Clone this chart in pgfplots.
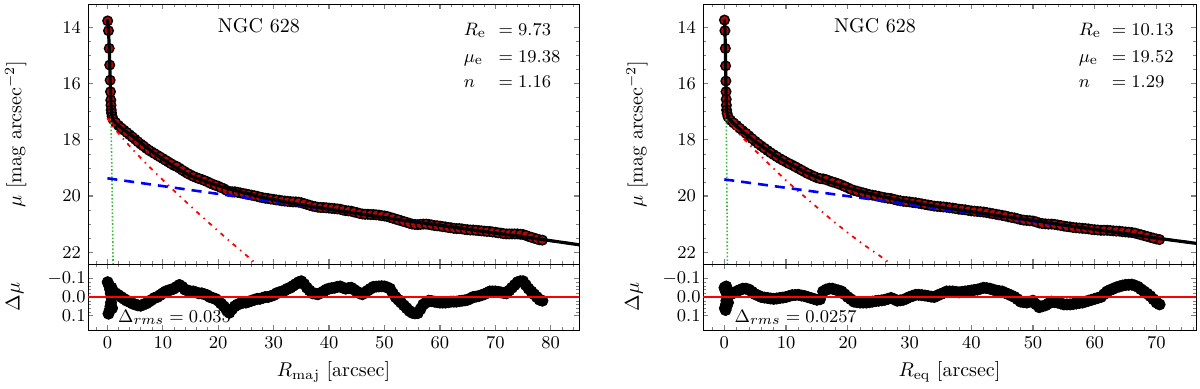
\documentclass[border=0pt]{standalone}
\usepackage{pgfplots}
\pgfplotsset{compat=1.18}
\usepackage{pgfplotstable}

\definecolor{nucgreen}{RGB}{60,185,60}
\definecolor{ptred}{RGB}{175,8,8}

% data: R, mu, residual
\pgfplotstableread{
R mu dmu
0.05 13.77 -0.08
0.20 14.12 0.09
0.33 14.75 -0.06
0.42 15.34 0.07
0.50 15.88 -0.04
0.56 16.29 0.05
0.61 16.59 -0.02
0.65 16.77 0.03
0.69 16.94 0.00
0.75 17.05 -0.05
0.85 17.17 0.06
1 17.27 -0.03
2 17.49 -0.01
3 17.66 0.01
4 17.82 0.025
5 17.98 0.04
6 18.15 0.047
7 18.30 0.035
8 18.43 0.015
9 18.55 0.0
10 18.67 -0.02
11 18.79 -0.035
12 18.91 -0.045
13 19.01 -0.065
14 19.14 -0.04
15 19.25 -0.03
16 19.34 -0.025
17 19.41 -0.02
18 19.49 -0.01
19 19.58 0.005
20 19.65 0.02
21 19.74 0.05
22 19.84 0.085
23 19.85 0.05
24 19.89 0.035
25 19.93 0.03
26 19.97 0.02
27 20.01 0.01
28 20.06 0.005
29 20.09 0.0
30 20.12 -0.01
31 20.15 -0.025
32 20.18 -0.035
33 20.20 -0.05
34 20.21 -0.07
35 20.24 -0.085
36 20.30 -0.05
37 20.36 -0.02
38 20.40 -0.015
39 20.41 -0.03
40 20.43 -0.045
41 20.45 -0.05
42 20.47 -0.057
43 20.52 -0.045
44 20.54 -0.05
45 20.59 -0.03
46 20.64 -0.015
47 20.65 -0.035
48 20.66 -0.055
49 20.68 -0.057
50 20.71 -0.057
51 20.76 -0.045
52 20.82 0.0
53 20.88 0.03
54 20.94 0.06
55 21.00 0.085
56 21.02 0.087
57 21.00 0.04
58 21.01 0.02
59 21.05 0.025
60 21.07 0.03
61 21.10 0.03
62 21.13 0.025
63 21.16 0.025
64 21.17 0.02
65 21.20 0.015
66 21.21 0.0
67 21.23 -0.005
68 21.25 -0.015
69 21.26 -0.03
70 21.29 -0.03
71 21.32 -0.025
72 21.35 -0.02
73 21.35 -0.05
74 21.35 -0.08
75 21.37 -0.085
76 21.44 -0.045
77 21.50 -0.015
78 21.56 0.015
}\leftdata

\pgfplotstableread{
R mu dmu
1.5 17.39 -0.02
2.5 17.58 0.0
3.5 17.74 0.02
4.5 17.90 0.035
5.5 18.07 0.045
6.5 18.22 0.04
7.5 18.37 0.025
8.5 18.49 0.005
9.5 18.61 -0.01
10.5 18.73 -0.03
11.5 18.85 -0.04
12.5 18.95 -0.055
13.5 19.08 -0.055
14.5 19.20 -0.035
15.5 19.30 -0.03
16.5 19.38 -0.02
17.5 19.45 -0.015
18.5 19.54 0.0
19.5 19.62 0.01
20.5 19.70 0.035
21.5 19.80 0.07
22.5 19.85 0.065
23.5 19.87 0.04
24.5 19.91 0.03
25.5 19.95 0.025
26.5 19.99 0.015
27.5 20.04 0.01
28.5 20.08 0.0
29.5 20.11 -0.005
30.5 20.14 -0.02
31.5 20.17 -0.03
32.5 20.19 -0.045
33.5 20.21 -0.06
34.5 20.22 -0.08
35.5 20.27 -0.07
36.5 20.33 -0.035
37.5 20.38 -0.018
38.5 20.41 -0.022
39.5 20.42 -0.04
40.5 20.44 -0.048
41.5 20.46 -0.055
42.5 20.50 -0.05
43.5 20.53 -0.048
44.5 20.57 -0.04
45.5 20.62 -0.02
46.5 20.65 -0.025
47.5 20.66 -0.045
48.5 20.67 -0.056
49.5 20.70 -0.058
50.5 20.73 -0.052
51.5 20.79 -0.02
52.5 20.85 0.015
53.5 20.91 0.045
54.5 20.97 0.075
55.5 21.01 0.088
56.5 21.01 0.065
57.5 21.00 0.03
58.5 21.03 0.022
59.5 21.06 0.028
60.5 21.09 0.03
61.5 21.12 0.028
62.5 21.15 0.025
63.5 21.16 0.022
64.5 21.19 0.018
65.5 21.21 0.008
66.5 21.22 -0.002
67.5 21.24 -0.01
68.5 21.26 -0.022
69.5 21.28 -0.03
70.5 21.31 -0.028
71.5 21.34 -0.022
72.5 21.35 -0.035
73.5 21.35 -0.065
74.5 21.36 -0.085
75.5 21.40 -0.065
76.5 21.47 -0.03
77.5 21.53 0.0
78.5 21.57 0.02
}\lefthalf

\pgfplotstableread{
R mu
0 13.72
0.20 14.08
0.33 14.72
0.42 15.32
0.50 15.86
0.56 16.27
0.61 16.58
0.65 16.77
0.69 16.93
0.75 17.06
0.85 17.18
1 17.30
2 17.50
3 17.65
4 17.79
5 17.94
6 18.10
7 18.26
8 18.41
9 18.55
10 18.69
11 18.82
12 18.95
13 19.07
14 19.18
15 19.28
16 19.36
17 19.43
18 19.50
19 19.57
20 19.63
22 19.75
24 19.85
26 19.95
28 20.05
30 20.13
33 20.25
36 20.35
40 20.47
45 20.62
50 20.77
55 20.91
60 21.04
65 21.18
70 21.32
75 21.45
80 21.59
86 21.76
}\leftmodel

\pgfplotstableread{
R mu dmu
0.03 13.74 -0.05
0.10 14.12 0.06
0.17 14.75 -0.04
0.21 15.37 0.07
0.25 15.91 -0.03
0.28 16.29 0.04
0.31 16.56 -0.057
0.34 16.77 0.02
0.37 16.94 0.05
0.45 17.06 -0.02
0.60 17.18 0.03
1 17.30 -0.015
2 17.49 -0.03
3 17.68 -0.045
4 17.86 -0.04
5 18.05 -0.015
6 18.22 0.0
7 18.38 0.005
8 18.53 0.01
9 18.67 0.005
10 18.79 0.0
11 18.90 -0.01
12 19.02 -0.012
13 19.14 -0.005
14 19.25 0.005
15 19.35 0.015
16 19.39 -0.03
17 19.46 -0.045
18 19.53 -0.04
19 19.61 -0.03
20 19.71 0.0
21 19.80 0.025
22 19.86 0.03
23 19.92 0.03
24 19.97 0.025
25 20.01 0.02
26 20.06 0.015
27 20.09 0.005
28 20.15 0.02
29 20.19 0.015
30 20.21 0.0
31 20.24 -0.012
32 20.28 -0.01
33 20.32 -0.005
34 20.36 0.0
35 20.38 -0.015
36 20.40 -0.03
37 20.43 -0.03
38 20.47 -0.025
39 20.49 -0.03
40 20.53 -0.035
41 20.55 -0.04
42 20.57 -0.05
43 20.61 -0.045
44 20.65 -0.035
45 20.69 -0.03
46 20.74 -0.015
47 20.78 0.0
48 20.84 0.025
49 20.87 0.03
50 20.89 0.02
51 20.96 0.055
52 20.99 0.045
53 21.00 0.025
54 21.03 0.03
55 21.07 0.04
56 21.10 0.04
57 21.13 0.035
58 21.15 0.03
59 21.17 0.02
60 21.20 0.01
61 21.22 0.0
62 21.22 -0.03
63 21.24 -0.045
64 21.25 -0.057
65 21.28 -0.065
66 21.30 -0.067
67 21.35 -0.055
68 21.41 -0.03
69 21.47 -0.005
70 21.53 0.03
70.5 21.55 0.04
}\rightdata

\pgfplotstableread{
R mu dmu
1.5 17.40 -0.022
2.5 17.59 -0.038
3.5 17.77 -0.045
4.5 17.96 -0.028
5.5 18.14 -0.008
6.5 18.30 0.003
7.5 18.46 0.008
8.5 18.60 0.008
9.5 18.73 0.003
10.5 18.85 -0.005
11.5 18.96 -0.011
12.5 19.08 -0.008
13.5 19.20 0.0
14.5 19.30 0.01
15.5 19.38 0.012
16.5 19.42 -0.04
17.5 19.50 -0.045
18.5 19.57 -0.035
19.5 19.66 -0.015
20.5 19.76 0.012
21.5 19.83 0.028
22.5 19.89 0.03
23.5 19.95 0.028
24.5 19.99 0.022
25.5 20.04 0.018
26.5 20.08 0.01
27.5 20.12 0.012
28.5 20.17 0.018
29.5 20.20 0.008
30.5 20.23 -0.006
31.5 20.26 -0.012
32.5 20.30 -0.008
33.5 20.34 -0.002
34.5 20.37 -0.008
35.5 20.39 -0.022
36.5 20.42 -0.03
37.5 20.45 -0.028
38.5 20.48 -0.028
39.5 20.51 -0.032
40.5 20.54 -0.038
41.5 20.56 -0.045
42.5 20.59 -0.048
43.5 20.63 -0.04
44.5 20.67 -0.032
45.5 20.71 -0.022
46.5 20.76 -0.008
47.5 20.81 0.012
48.5 20.86 0.028
49.5 20.88 0.025
50.5 20.92 0.04
51.5 20.98 0.05
52.5 21.00 0.035
53.5 21.01 0.028
54.5 21.05 0.035
55.5 21.09 0.04
56.5 21.12 0.038
57.5 21.14 0.032
58.5 21.16 0.025
59.5 21.19 0.015
60.5 21.21 0.005
61.5 21.22 -0.015
62.5 21.23 -0.038
63.5 21.25 -0.052
64.5 21.27 -0.062
65.5 21.29 -0.066
66.5 21.32 -0.062
67.5 21.38 -0.042
68.5 21.44 -0.018
69.5 21.50 0.012
}\righthalf

\pgfplotstableread{
R mu
0 13.72
0.10 14.08
0.17 14.72
0.21 15.35
0.25 15.89
0.28 16.28
0.31 16.57
0.34 16.77
0.37 16.93
0.45 17.06
0.60 17.18
1 17.31
2 17.52
3 17.72
4 17.90
5 18.06
6 18.22
7 18.37
8 18.52
9 18.66
10 18.79
11 18.91
12 19.03
13 19.14
14 19.24
15 19.33
16 19.42
17 19.50
18 19.57
19 19.64
20 19.71
22 19.83
24 19.94
26 20.04
28 20.13
30 20.21
33 20.32
36 20.43
40 20.56
45 20.72
50 20.87
55 21.03
60 21.19
65 21.34
70 21.50
78 21.73
}\rightmodel

\tikzset{txt/.style={anchor=base west, font=\fontsize{9.5}{11}\selectfont}}

\pgfplotsset{
  every tick label/.append style={font=\fontsize{9.5}{11}\selectfont},
  every axis label/.append style={font=\fontsize{10}{12}\selectfont},
  prof/.style={
    scale only axis, height=130pt, anchor=south west,
    y dir=reverse, ymin=13.17, ymax=22.42,
    ytick={14,16,18,20,22}, minor y tick num=3,
    xtick distance=10, minor x tick num=4, xticklabels={},
    major tick length=2.6pt, minor tick length=1.5pt,
    every major tick/.append style={line width=0.6pt},
    clip marker paths=true,
  },
  resid/.style={
    scale only axis, height=33pt, anchor=south west,
    y dir=reverse, ymin=-0.178, ymax=0.178,
    ytick={-0.1,0,0.1}, yticklabels={$-0.1$,$0.0$,$0.1$},
    minor y tick num=4,
    xtick distance=10, minor x tick num=4,
    major tick length=2.6pt, minor tick length=1.5pt,
    every major tick/.append style={line width=0.6pt},
    yticklabel style={inner xsep=1pt},
    clip marker paths=true,
  },
  datapts/.style={only marks, mark=*, mark size=2.4pt,
    mark options={fill=ptred, draw=black, line width=0.7pt}},
  respts/.style={only marks, mark=*, mark size=2.8pt,
    mark options={fill=black, draw=black}},
  bulge/.style={red, line width=0.9pt, dash pattern=on 2.2pt off 2.6pt on 0.7pt off 2.6pt},
  disk/.style={blue, line width=1.3pt, dash pattern=on 5pt off 3.5pt},
  nucl/.style={nucgreen, densely dotted, line width=0.8pt},
}

\begin{document}
\begin{tikzpicture}
% ---------- left: major axis ----------
\begin{axis}[prof, at={(44pt,-132pt)}, width=245.5pt, xmin=-3.5, xmax=85.1,
  ylabel={$\mu$ [mag arcsec$^{-2}$]},
  ylabel style={at={(axis description cs:-0.147,0.5)}, anchor=center}]
\addplot[datapts] table[x=R, y=mu] {\leftdata};
\addplot[datapts] table[x=R, y=mu] {\lefthalf};
\addplot[nucl] coordinates {
  (0,13.80) (0.3,14.54) (0.5,15.85) (0.6,16.75) (0.7,17.82) (0.8,19.05) (0.9,20.44) (1.0,22.00) (1.03,22.5)};
\addplot[bulge] coordinates {
  (0,17.22) (0.5,17.39) (1,17.52) (2,17.77) (3,18.00) (5,18.44) (7.5,18.95) (10,19.43)
  (12.5,19.90) (15,20.36) (17.5,20.81) (20,21.25) (22.5,21.68) (25,22.10) (27.5,22.52)};
\addplot[disk] coordinates {(0,19.37) (86,21.76)};
\addplot[black, line width=1.6pt] table[x=R, y=mu] {\leftmodel};
\node[font=\fontsize{10}{12}\selectfont] at (axis description cs:0.348,0.915) {NGC 628};
\node[txt] at (axis description cs:0.751,0.88) {$R_\mathrm{e}$};
\node[txt] at (axis description cs:0.822,0.88) {$=9.73$};
\node[txt] at (axis description cs:0.751,0.775) {$\mu_\mathrm{e}$};
\node[txt] at (axis description cs:0.822,0.775) {$=19.38$};
\node[txt] at (axis description cs:0.751,0.68) {$n$};
\node[txt] at (axis description cs:0.822,0.68) {$=1.16$};
\end{axis}
% ---------- left: residuals ----------
\begin{axis}[resid, at={(44pt,-165pt)}, width=245.5pt, xmin=-3.5, xmax=85.1,
  xlabel={$R_\mathrm{maj}$ [arcsec]}, ylabel={$\Delta\mu$},
  xlabel style={at={(axis description cs:0.5,-0.64)}, anchor=center},
  ylabel style={at={(axis description cs:-0.149,0.5)}, anchor=center}]
\addplot[respts] table[x=R, y=dmu] {\leftdata};
\addplot[respts] table[x=R, y=dmu] {\lefthalf};
\addplot[red, line width=0.6pt] coordinates {(-5,0) (90,0)};
\node[txt] at (axis description cs:0.047,0.12) {$\Delta_{rms}=0.035$};
\end{axis}
% ---------- right: equivalent axis ----------
\begin{axis}[prof, at={(351.5pt,-132pt)}, width=246.5pt, xmin=-3.45, xmax=76.4,
  ylabel={$\mu$ [mag arcsec$^{-2}$]},
  ylabel style={at={(axis description cs:-0.134,0.5)}, anchor=center}]
\addplot[datapts] table[x=R, y=mu] {\rightdata};
\addplot[datapts] table[x=R, y=mu] {\righthalf};
\addplot[nucl] coordinates {
  (0,13.80) (0.15,14.57) (0.25,15.95) (0.3,16.90) (0.35,18.01) (0.4,19.30) (0.45,20.77) (0.5,22.40) (0.51,22.5)};
\addplot[bulge] coordinates {
  (0,17.05) (1,17.40) (2,17.68) (3,17.93) (4,18.15) (5,18.38) (7.5,18.92) (10,19.45)
  (12.5,19.93) (15,20.40) (17.5,20.87) (20,21.31) (22.5,21.72) (25,22.10) (27.5,22.50)};
\addplot[disk] coordinates {(0,19.41) (78,21.73)};
\addplot[black, line width=1.6pt] table[x=R, y=mu] {\rightmodel};
\node[font=\fontsize{10}{12}\selectfont] at (axis description cs:0.349,0.915) {NGC 628};
\node[txt] at (axis description cs:0.748,0.88) {$R_\mathrm{e}$};
\node[txt] at (axis description cs:0.815,0.88) {$=10.13$};
\node[txt] at (axis description cs:0.748,0.775) {$\mu_\mathrm{e}$};
\node[txt] at (axis description cs:0.815,0.775) {$=19.52$};
\node[txt] at (axis description cs:0.748,0.68) {$n$};
\node[txt] at (axis description cs:0.815,0.68) {$=1.29$};
\end{axis}
% ---------- right: residuals ----------
\begin{axis}[resid, at={(351.5pt,-165pt)}, width=246.5pt, xmin=-3.45, xmax=76.4,
  xlabel={$R_\mathrm{eq}$ [arcsec]}, ylabel={$\Delta\mu$},
  xlabel style={at={(axis description cs:0.5,-0.64)}, anchor=center},
  ylabel style={at={(axis description cs:-0.140,0.5)}, anchor=center}]
\addplot[respts] table[x=R, y=dmu] {\rightdata};
\addplot[respts] table[x=R, y=dmu] {\righthalf};
\addplot[red, line width=0.6pt] coordinates {(-5,0) (90,0)};
\node[txt] at (axis description cs:0.05,0.12) {$\Delta_{rms}=0.0257$};
\end{axis}
\pgfresetboundingbox
\path[use as bounding box] (0,0) rectangle (600pt,-194pt);
\end{tikzpicture}
\end{document}
